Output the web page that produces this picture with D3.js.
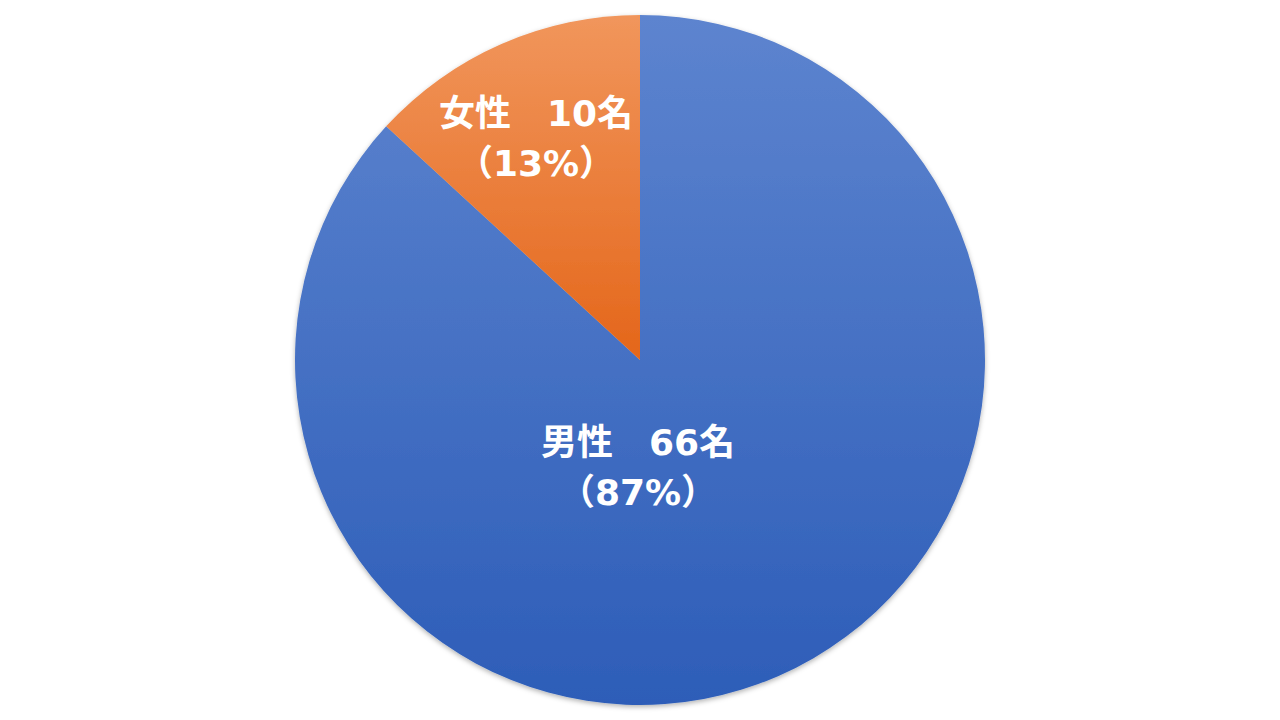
<!DOCTYPE html>
<html><head><meta charset="utf-8">
<script src="https://cdn.jsdelivr.net/npm/d3@7"></script>
<style>html,body{margin:0;padding:0;background:#fff;}svg{display:block;}</style>
</head><body>
<svg id="chart" width="1280" height="720"></svg>
<script>
const categories = ["男性", "女性"];
const counts = [66, 10];
const percents = ["87%", "13%"];
const colorsTop = ["#5D84CF", "#F1965C"];
const colorsBottom = ["#2D5DB8", "#E4661A"];

const svg = d3.select("#chart");
const cx = 640, cy = 360, r = 345;
const defs = svg.append("defs");
const f = defs.append("filter").attr("id","sh").attr("x","-10%").attr("y","-10%").attr("width","120%").attr("height","120%");
f.append("feDropShadow").attr("dx",0).attr("dy",2).attr("stdDeviation",2.5).attr("flood-color","#000").attr("flood-opacity",0.3);

categories.forEach((c,i)=>{
  const g = defs.append("linearGradient").attr("id","grad"+i).attr("x1",0).attr("y1",0).attr("x2",0).attr("y2",1);
  g.append("stop").attr("offset","0%").attr("stop-color",colorsTop[i]);
  g.append("stop").attr("offset","100%").attr("stop-color",colorsBottom[i]);
});

const data = categories.map((c,i)=>({cat:c,count:counts[i],pct:percents[i],i}));
const pie = d3.pie().sort(null).value(d=>d.count);
const arc = d3.arc().innerRadius(0).outerRadius(r);
const arcs = pie(data);

const g = svg.append("g").attr("transform",`translate(${cx},${cy})`);
g.append("g").attr("filter","url(#sh)").selectAll("path").data(arcs).join("path")
  .attr("d",arc)
  .attr("fill",d=>`url(#grad${d.data.i})`);

const labelPos = [[-2, 107],[-104, -222]];
const lbl = g.selectAll("text.lbl").data(arcs).join("text")
  .attr("class","lbl")
  .attr("text-anchor","middle")
  .attr("fill","#fff")
  .attr("font-family","'DejaVu Sans', 'Noto Sans CJK JP', sans-serif")
  .attr("font-weight","bold")
  .attr("font-size",36)
  .attr("transform",(d,i)=>`translate(${labelPos[i][0]},${labelPos[i][1]})`);
lbl.append("tspan").attr("x",0).attr("dy",-12).text(d=>`${d.data.cat}\u3000${d.data.count}名`);
lbl.append("tspan").attr("x",0).attr("dy",50).text(d=>`（${d.data.pct}）`);
</script>
</body></html>
